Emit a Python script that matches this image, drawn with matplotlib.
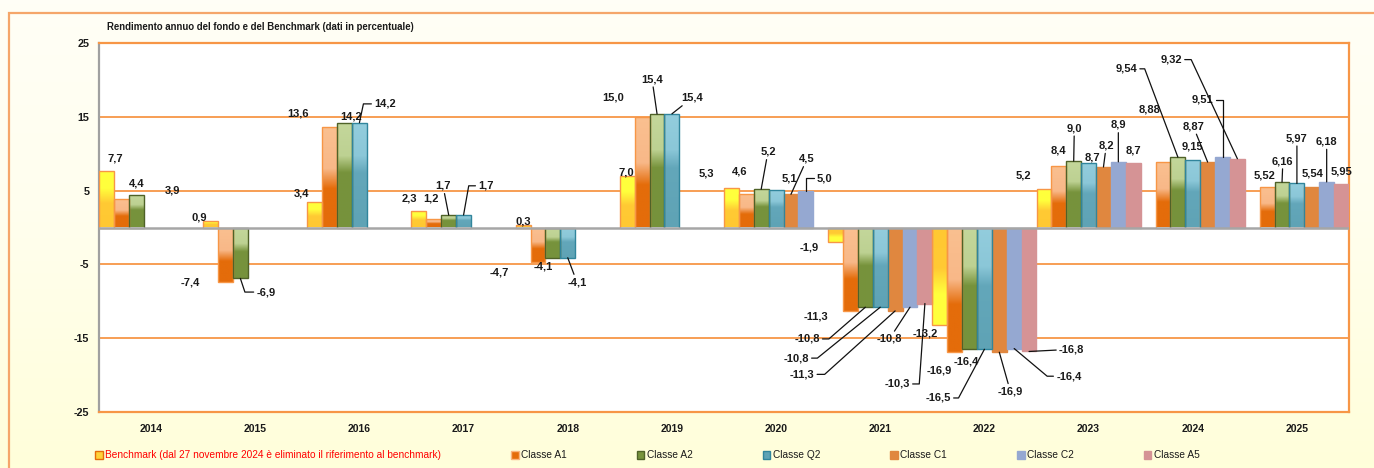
import numpy as np
import matplotlib.pyplot as plt
from matplotlib.patches import Patch, Rectangle
from matplotlib.colors import to_rgb

plt.rcParams['font.family'] = ['Liberation Sans Narrow', 'Liberation Sans', 'DejaVu Sans']

years = ['2014', '2015', '2016', '2017', '2018', '2019', '2020', '2021', '2022', '2023', '2024', '2025']
nan = np.nan
benchmark = [7.7, 0.9, 3.4, 2.3, 0.3, 7.0, 5.3, -1.9, -13.2, 5.2, nan, nan]
classe_a1 = [3.9, -7.4, 13.6, 1.2, -4.7, 15.0, 4.6, -11.3, -16.9, 8.4, 8.88, 5.52]
classe_a2 = [4.4, -6.9, 14.2, 1.7, -4.1, 15.4, 5.2, -10.8, -16.4, 9.0, 9.54, 6.16]
classe_q2 = [nan, nan, 14.2, 1.7, -4.1, 15.4, 5.1, -10.8, -16.5, 8.7, 9.15, 5.97]
classe_c1 = [nan, nan, nan, nan, nan, nan, 4.5, -11.3, -16.9, 8.2, 8.87, 5.54]
classe_c2 = [nan, nan, nan, nan, nan, nan, 5.0, -10.8, -16.4, 8.9, 9.51, 6.18]
classe_a5 = [nan, nan, nan, nan, nan, nan, nan, -10.3, -16.8, 8.7, 9.32, 5.95]
decimals = [1] * 10 + [2, 2]

series = [benchmark, classe_a1, classe_a2, classe_q2, classe_c1, classe_c2, classe_a5]
names = ['Benchmark (dal 27 novembre 2024 è eliminato il riferimento al benchmark)',
         'Classe A1', 'Classe A2', 'Classe Q2', 'Classe C1', 'Classe C2', 'Classe A5']

# gradient stops (fraction from top of bar, colour); bench is measured from the base
grads = {
    0: [(0, '#FFC832'), (0.42, '#FFCA34'), (0.68, '#FFFF3C'), (1, '#FFFF3C')],
    1: [(0, '#FAC090'), (0.42, '#F8B888'), (0.62, '#E46C0A'), (1, '#E46C0A')],
    2: [(0, '#C4D79B'), (0.32, '#BDD192'), (0.48, '#77933C'), (1, '#76923C')],
    3: [(0, '#93CDDD'), (0.32, '#8BC7D8'), (0.48, '#63A7BA'), (1, '#5FA3B5')],
}
solid = ['#FFCC33', '#E46C0A', '#77933C', '#5FA3B5', '#E0873F', '#95A8D1', '#D59395']
edges = ['#F79646', '#F79646', '#4F6228', '#31859C', '#E0873F', '#95A8D1', '#D59395']
legend_edges = ['#E46C0A', '#F9B47F', '#4F6228', '#31859C', '#E0873F', '#95A8D1', '#D59395']

# label placement: (series, year, dx in categories, y, leader)
labels = [
    (0, 0, 0.083, 9.3, None), (1, 0, 0.487, 4.95, None), (2, 0, 0.008, 6.0, None),
    (0, 1, -0.111, 1.3, None), (1, 1, -0.341, -7.4, None), (2, 1, 0.246, -8.75, -71.6),
    (0, 2, -0.123, 4.55, None), (1, 2, -0.304, 15.4, None), (2, 2, 0.061, 15.0, None),
    (3, 2, 0.246, 16.75, 78),
    (0, 3, -0.096, 3.9, None), (1, 3, -0.028, 3.9, None), (2, 3, -0.055, 5.65, 'line'),
    (3, 3, 0.215, 5.65, 80),
    (0, 4, 0.0, 0.75, None), (1, 4, -0.374, -6.05, None), (2, 4, -0.095, -5.35, None),
    (3, 4, 0.088, -7.4, 'line'),
    (0, 5, -0.012, 7.4, None), (1, 5, -0.28, 17.55, None), (2, 5, -0.048, 20.1, 'line'),
    (3, 5, 0.193, 17.55, 'line'),
    (0, 6, -0.245, 7.25, None), (1, 6, -0.06, 7.65, None), (2, 6, 0.065, 10.25, 'line'),
    (3, 6, 0.124, 6.7, None), (4, 6, 0.154, 9.3, 'line'), (5, 6, 0.183, 6.7, 90),
    (0, 7, -0.255, -2.65, None), (1, 7, -0.331, -12.0, None), (2, 7, -0.561, -15.1, 41),
    (3, 7, -0.808, -17.7, 39), (4, 7, -0.894, -19.9, 42), (5, 7, -0.198, -15.1, 'line'),
    (6, 7, -0.266, -21.2, 86),
    (0, 8, -0.14, -14.3, None), (1, 8, -0.152, -19.35, None), (2, 8, -0.034, -18.1, None),
    (3, 8, -0.444, -23.1, 62), (4, 8, 0.106, -22.2, 'line'), (5, 8, 0.525, -20.15, 140),
    (6, 8, 0.409, -16.5, 'line'),
    (0, 9, -0.193, 7.0, None), (1, 9, -0.008, 10.4, None), (2, 9, 0.006, 13.45, 'line'),
    (3, 9, 0.033, 9.5, None), (4, 9, 0.027, 11.1, 'line'), (5, 9, 0.0, 13.9, 'line'),
    (6, 9, 0.0, 10.4, None),
    (1, 10, -0.131, 15.95, None), (2, 10, -0.496, 21.5, -69.4), (3, 10, 0.0, 10.95, None),
    (4, 10, -0.138, 13.7, 'line'), (5, 10, -0.19, 17.3, 90), (6, 10, -0.636, 22.75, -65),
    (1, 11, -0.023, 7.1, None), (2, 11, 0.008, 9.0, 'line'), (3, 11, 0.0, 12.1, 'line'),
    (4, 11, 0.01, 7.25, None), (5, 11, 0.0, 11.65, 'line'), (6, 11, 0.0, 7.55, None),
]


def ramp(stops, n=120):
    pos = np.array([s[0] for s in stops])
    cols = np.array([to_rgb(s[1]) for s in stops])
    t = np.linspace(0, 1, n)
    return np.stack([np.interp(t, pos, cols[:, k]) for k in range(3)], axis=-1)


fig = plt.figure(figsize=(13.74, 4.68), dpi=100)

# background
bg = fig.add_axes([0, 0, 1, 1], zorder=-10)
bg.imshow(ramp([(0, '#FFFEF6'), (0.45, '#FFFEEE'), (1, '#FFFFDA')])[:, None, :],
          aspect='auto', extent=(0, 1, 0, 1))
bg.axis('off')
fig.add_artist(Rectangle((9 / 1374, -0.2), 1.2, 1.2 - 13 / 468, transform=fig.transFigure,
                         fill=False, edgecolor='#F5A66A', lw=1.6))

ax = fig.add_axes([99 / 1374, 1 - 412 / 468, 1250 / 1374, 369 / 468])
ax.set_facecolor('white')

x = np.arange(len(years))
nser = len(series)
w = 1.0 / nser
bars = []
for s, vals in enumerate(series):
    pos = x - 0.5 + (s + 0.5) * w
    b = ax.bar(pos, vals, width=w, color=solid[s], edgecolor=edges[s], linewidth=1.0, zorder=3)
    bars.append(b)
    if s in grads:
        col = ramp(grads[s])
        for rect, v in zip(b.patches, vals):
            if np.isnan(v):
                continue
            x0, y0 = rect.get_x(), rect.get_y()
            h = rect.get_height()
            img = col
            if s == 0 and v > 0:
                img = col[::-1]
            im = ax.imshow(img[:, None, :], aspect='auto', zorder=3,
                           extent=(x0, x0 + rect.get_width(), min(y0, y0 + h), max(y0, y0 + h)))
            im.set_clip_path(rect)
            rect.set_facecolor('none')
            rect.set_zorder(3.5)

ax.axhline(0, color='#A6A6A6', lw=1.8, zorder=4)

for s, i, dx, ly, leader in labels:
    v = series[s][i]
    bx = x[i] - 0.5 + (s + 0.5) * w
    txt = f'{v:.{decimals[i]}f}'.replace('.', ',')
    props = None
    if leader == 'line':
        props = dict(arrowstyle='-', color='#111111', lw=0.9, shrinkA=0, shrinkB=0)
    elif leader is not None:
        props = dict(arrowstyle='-', color='#111111', lw=0.9, shrinkA=0, shrinkB=0,
                     connectionstyle=f'angle,angleA=0,angleB={leader},rad=0')
    ax.annotate(txt, xy=(bx, v), xytext=(bx + dx, ly), textcoords='data',
                ha='center', va='center', fontsize=8, fontweight='bold', color='#1A1A1A',
                arrowprops=props, zorder=6, annotation_clip=False)

ax.set_xlim(-0.5, len(years) - 0.5)
ax.set_ylim(-25, 25)
ax.set_xticks(x)
ax.set_xticklabels(years, fontsize=7.5, fontweight='bold', color='#1A1A1A')
ax.set_yticks([-25, -15, -5, 5, 15, 25])
ax.set_yticklabels(['-25', '-15', '-5', '5', '15', '25'], fontsize=7.8, fontweight='bold', color='#1A1A1A')
ax.tick_params(axis='both', length=0)
ax.tick_params(axis='x', pad=8.5)
ax.tick_params(axis='y', pad=7)
ax.yaxis.grid(True, color='#F79646', lw=1.3, zorder=1)
ax.set_axisbelow(True)
for side in ['top', 'right', 'bottom']:
    ax.spines[side].set_color('#F79646')
    ax.spines[side].set_linewidth(1.6)
ax.spines['left'].set_color('#A0A0A0')
ax.spines['left'].set_linewidth(1.6)

fig.text(107 / 1374, 1 - 27 / 468, 'Rendimento annuo del fondo e del Benchmark (dati in percentuale)',
         fontsize=6.9, fontweight='bold', color='#1A1A1A', ha='left', va='center')

handles = [Patch(facecolor=solid[s], edgecolor=legend_edges[s], lw=1.0) for s in range(nser)]
handles[0] = Patch(facecolor='#FFD23A', edgecolor='#E46C0A', lw=1.0)
leg = fig.legend(handles, names, ncol=nser, loc='center left',
                 bbox_to_anchor=(95 / 1374, 1 - 455.5 / 468), frameon=False,
                 fontsize=7.3, handlelength=0.75, handleheight=0.75, handletextpad=0.25,
                 columnspacing=6.9, borderpad=0, borderaxespad=0)
for k, t in enumerate(leg.get_texts()):
    t.set_color('#FF0000' if k == 0 else '#1A1A1A')

fig.savefig('out.png', dpi=100)
